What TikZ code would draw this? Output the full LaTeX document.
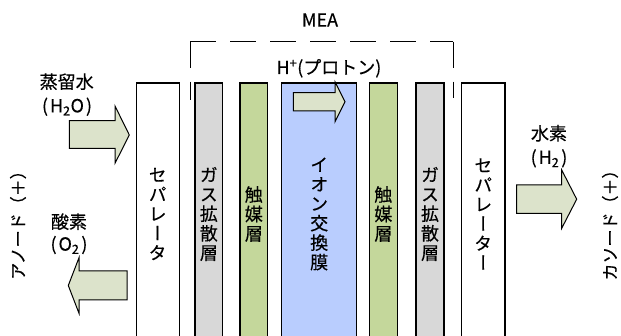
\documentclass[tikz,border=0pt]{standalone}
\usepackage{fontspec}
\setmainfont{Noto Sans CJK JP}[FakeBold=0.4]
\newfontfamily\vfont[RawFeature=+vert,FakeBold=0.4]{Noto Sans CJK JP}
\tikzset{
  layer/.style={draw=black, line width=1.2pt, minimum height=262pt, anchor=center, inner sep=0pt,
    font=\vfont\fontsize{18}{19.5}\selectfont, align=center},
  blockarrow/.style={draw=black, line width=1pt, fill=arrowfill, line join=miter},
  lbl/.style={font=\fontsize{18}{20}\selectfont, inner sep=0pt, align=center},
  mea/.style={draw=black, line width=1pt, dash pattern=on 26pt off 14pt}
}
\definecolor{gasgray}{HTML}{D8D8D8}
\definecolor{catgreen}{HTML}{C4D79B}
\definecolor{ionblue}{HTML}{B9CDFE}
\definecolor{arrowfill}{HTML}{DCE3CB}
\begin{document}
\begin{tikzpicture}[x=1pt,y=-1pt]
\useasboundingbox (0,0) rectangle (621,336);
\clip (0,0) rectangle (621,336);
% layers
\node[layer, fill=white, minimum width=43pt] (sepL) at (157.7,214) {セ\\パ\\レ\\ー\\タ};
\node[layer, fill=gasgray, minimum width=27.7pt] (gasL) at (208.8,214) {ガ\\ス\\拡\\散\\層};
\node[layer, fill=catgreen, minimum width=27.7pt] (catL) at (253.8,214) {触\\媒\\層};
\node[layer, fill=ionblue, minimum width=75pt] (ion) at (319.2,214) {イ\\オ\\ン\\交\\換\\膜};
\node[layer, fill=catgreen, minimum width=28pt] (catR) at (383.3,214) {触\\媒\\層};
\node[layer, fill=gasgray, minimum width=28pt] (gasR) at (430,214) {ガ\\ス\\拡\\散\\層};
\node[layer, fill=white, minimum width=43.3pt] (sepR) at (483.3,214) {セ\\パ\\レ\\ー\\タ\\ー};
% MEA bracket
\coordinate (mL) at (190,41.7);
\coordinate (mR) at (453.3,41.7);
\draw[mea] (mL) -- (190,100);
\draw[mea] (mL) -- (mR);
\draw[mea] (mR) -- (453.3,98);
\node[lbl] (meatxt) at (320,20) {MEA};
% proton
\node[lbl, anchor=base] (proton) at (329,74) {H\textsuperscript{+}(プロトン)};
\draw[blockarrow] (293.3,92.7) -- (335,92.7) -- (335,81.7) -- (345,101.7) -- (335,121.7) -- (335,111) -- (293.3,111) -- cycle;
% water in
\node[lbl] (water) at (66.7,81.7) {蒸留水};
\node[lbl] (h2o) at (67,106.7) {(\kern2pt H\textsubscript{2}O\kern2pt)};
\draw[blockarrow] (69.3,120.7) -- (115,120.7) -- (115,106) -- (129.3,135) -- (115,163.3) -- (115,148.3) -- (69.3,148.3) -- cycle;
% oxygen out
\node[lbl] (oxy) at (69,221.7) {酸素};
\node[lbl] (o2) at (69,245) {(\kern2pt O\textsubscript{2}\kern2pt)};
\draw[blockarrow] (127,271) -- (79,271) -- (79,257.7) -- (68.3,285.5) -- (79,313.3) -- (79,300) -- (127,300) -- cycle;
% hydrogen out
\node[lbl] (hyd) at (549,133.3) {水素};
\node[lbl] (h2) at (549,158.3) {(\kern2pt H\textsubscript{2}\kern2pt)};
\draw[blockarrow] (516.7,185) -- (561.7,185) -- (561.7,170) -- (576.7,199.2) -- (561.7,228.3) -- (561.7,213.3) -- (516.7,213.3) -- cycle;
% electrodes
\node[lbl, rotate=90, font=\fontsize{17}{19}\selectfont] (anode) at (18,221) {アノード（＋）};
\node[lbl, rotate=90, font=\fontsize{17}{19}\selectfont] (cathode) at (610,221) {カソード（＋）};
\end{tikzpicture}
\end{document}
